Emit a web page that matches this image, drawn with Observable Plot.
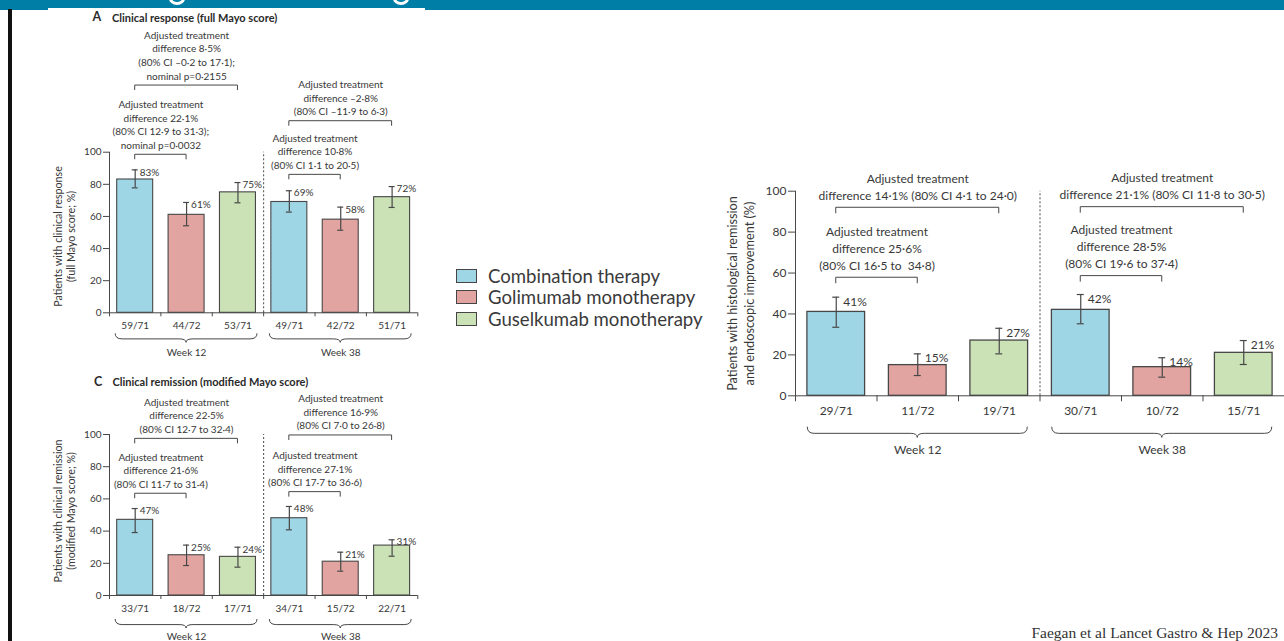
<!DOCTYPE html>
<html>
<head>
<meta charset="utf-8">
<script src="https://cdn.jsdelivr.net/npm/d3@7"></script>
<script src="https://cdn.jsdelivr.net/npm/@observablehq/plot@0.6"></script>
<style>
  body { margin: 0; background: #fff; }
  #page { position: relative; width: 1284px; height: 641px; overflow: hidden; background: #fff;
          font-family: Lato, "Open Sans", sans-serif; color: #3a3a3a; }
  .abs { position: absolute; }
  .banner { left: 0; top: 0; width: 1284px; height: 10px; background: #017ea6; overflow: hidden; }
  .glyph { position: absolute; top: -8px; width: 16px; height: 13px; border: 3px solid #fff; border-radius: 50%; box-sizing: border-box; }
  .ptitle { font-weight: 700; font-size: 11px; line-height: 13px; white-space: nowrap; color: #2a2a2a; }
  .pletter { font-weight: 700; font-size: 12.5px; line-height: 14px; color: #2a2a2a; }
  .legend-row { position: absolute; left: 456px; height: 22px; display: flex; align-items: center; white-space: nowrap; }
  .swatch { width: 19px; height: 12px; border: 1.5px solid #454545; margin-right: 11px; }
  .legend-row span { font-size: 18.6px; color: #3a3a3a; }
  .caption { right: 6px; top: 623px; font-family: "Liberation Serif", "DejaVu Serif", serif; font-size: 15.5px; line-height: 19px; color: #333; white-space: nowrap; }
</style>
</head>
<body>
<div id="page">
  <div class="abs banner">
    <div class="glyph" style="left:169px"></div>
    <div class="glyph" style="left:393px"></div>
  </div>
  <div class="abs" style="left:48px;top:7.5px;width:377px;height:3px;background:#fff"></div>
  <div class="abs" style="left:8px;top:9px;width:3.5px;height:632px;background:#111"></div>

  <div class="abs pletter" style="left:92.5px;top:10px">A</div>
  <div class="abs ptitle" style="left:112px;top:10.5px">Clinical response (full Mayo score)</div>
  <div class="abs pletter" style="left:94px;top:374.5px">C</div>
  <div class="abs ptitle" style="left:112.5px;top:375px">Clinical remission (modified Mayo score)</div>

  <div id="panelA" class="abs" style="left:0;top:0"></div>
  <div id="panelC" class="abs" style="left:0;top:365px"></div>
  <div id="panelB" class="abs" style="left:700px;top:150px"></div>
  <div id="legend"></div>
  <div class="abs caption">Faegan et al Lancet Gastro &amp; Hep 2023</div>
</div>

<script>
// Treatment arms and their fills
const arms = ["Combination therapy", "Golimumab monotherapy", "Guselkumab monotherapy"];
const armColors = ["#9fd6e6", "#e1a4a1", "#cae2b5"];
const weeks = ["Week 12", "Week 38"];
const yTicks = [0, 20, 40, 60, 80, 100];

// Bar order: week 12 (combination, golimumab, guselkumab), then week 38 in the same order
const responseCounts = ["59/71", "44/72", "53/71", "49/71", "42/72", "51/71"];
const responsePct = [83, 61, 75, 69, 58, 72];
const responseLow = [77.8, 54.2, 68.5, 62.7, 51.4, 65.6];
const responseHigh = [89.0, 68.7, 81.1, 76.0, 65.8, 78.6];
const responseComparisons = [
  { from: 0, to: 1, level: 98.4, text: "Adjusted treatment\ndifference 22·1%\n(80% CI 12·9 to 31·3);\nnominal p=0·0032" },
  { from: 0, to: 2, level: 141.5, text: "Adjusted treatment\ndifference 8·5%\n(80% CI –0·2 to 17·1);\nnominal p=0·2155" },
  { from: 3, to: 4, level: 85.9, text: "Adjusted treatment\ndifference 10·8%\n(80% CI 1·1 to 20·5)" },
  { from: 3, to: 5, level: 119.3, text: "Adjusted treatment\ndifference –2·8%\n(80% CI –11·9 to 6·3)" }
];

const remissionCounts = ["33/71", "18/72", "17/71", "34/71", "15/72", "22/71"];
const remissionPct = [47, 25, 24, 48, 21, 31];
const remissionLow = [39.1, 18.6, 17.6, 40.8, 15.1, 24.4];
const remissionHigh = [54.0, 31.3, 30.0, 55.3, 26.9, 34.6];
const remissionComparisons = [
  { from: 0, to: 1, level: 63.2, text: "Adjusted treatment\ndifference 21·6%\n(80% CI 11·7 to 31·4)" },
  { from: 0, to: 2, level: 97.3, text: "Adjusted treatment\ndifference 22·5%\n(80% CI 12·7 to 32·4)" },
  { from: 3, to: 4, level: 64.2, text: "Adjusted treatment\ndifference 27·1%\n(80% CI 17·7 to 36·6)" },
  { from: 3, to: 5, level: 99.4, text: "Adjusted treatment\ndifference 16·9%\n(80% CI 7·0 to 26·8)" }
];

const histoCounts = ["29/71", "11/72", "19/71", "30/71", "10/72", "15/71"];
const histoPct = [41, 15, 27, 42, 14, 21];
const histoLow = [33.5, 9.9, 20.5, 35.2, 9.1, 15.3];
const histoHigh = [48.2, 20.5, 33.0, 49.5, 18.6, 27.0];
const histoComparisons = [
  { from: 0, to: 1, level: 57.7, text: "Adjusted treatment\ndifference 25·6%\n(80% CI 16·5 to  34·8)" },
  { from: 0, to: 2, level: 91.9, text: "Adjusted treatment\ndifference 14·1% (80% CI 4·1 to 24·0)" },
  { from: 3, to: 4, level: 58.5, text: "Adjusted treatment\ndifference 28·5%\n(80% CI 19·6 to 37·4)" },
  { from: 3, to: 5, level: 92.2, text: "Adjusted treatment\ndifference 21·1% (80% CI 11·8 to 30·5)" }
];

const lineColor = "#474747";
const textColor = "#383838";
const slots = d3.range(6);
const slotEdges = d3.range(7);
const weekGroups = weeks.map((week, k) => ({ week, start: k * 3 }));

// Square brackets joining two bar centres, drawn with the plot's own scales
function brackets(comps, tick) {
  return (index, { x, y }) => {
    const g = d3.create("svg:g").attr("fill", "none").attr("stroke", lineColor).attr("stroke-width", 1);
    for (const c of comps) {
      const x1 = x(c.from + 0.5), x2 = x(c.to + 0.5), yy = y(c.level);
      g.append("path").attr("d", `M${x1},${yy + tick}V${yy}H${x2}V${yy + tick}`);
    }
    return g.node();
  };
}

// Curly braces under each week's three bars
function braces(groups, offset, depth, inset) {
  return (index, { x, y }) => {
    const g = d3.create("svg:g").attr("fill", "none").attr("stroke", lineColor).attr("stroke-width", 1);
    for (const w of groups) {
      const x1 = x(w.start + inset), x2 = x(w.start + 3 - inset), xm = (x1 + x2) / 2;
      const y0 = y(0) + offset, m = y0 + depth * 0.62, r = 7;
      g.append("path").attr("d",
        `M${x1},${y0}Q${x1},${m} ${x1 + r},${m}L${xm - r},${m}Q${xm},${m} ${xm},${y0 + depth}` +
        `Q${xm},${m} ${xm + r},${m}L${x2 - r},${m}Q${x2},${m} ${x2},${y0}`);
    }
    return g.node();
  };
}

function panel(o) {
  return Plot.plot({
    width: o.width, height: o.height,
    marginLeft: o.ml, marginRight: o.mr, marginTop: o.mt, marginBottom: o.mb,
    x: { domain: [0, 6], axis: null },
    y: { domain: [0, 100], axis: null },
    color: { domain: arms, range: armColors },
    style: { fontFamily: "Lato, 'Open Sans', sans-serif", fontSize: o.font + "px", color: textColor, background: "transparent", overflow: "visible" },
    marks: [
      Plot.rectY(slots, { x1: i => i, x2: i => i + 1, y: i => o.pct[i], fill: i => arms[i % 3],
        stroke: lineColor, strokeWidth: o.barStroke, insetLeft: o.inset, insetRight: o.inset }),
      Plot.ruleX([3], { y1: 0, y2: 100, stroke: lineColor, strokeDasharray: "2,2", strokeWidth: 1 }),
      Plot.ruleY([0], { x1: 0, x2: 6, stroke: lineColor }),
      Plot.ruleX([0], { y1: 0, y2: 100, stroke: lineColor }),
      Plot.axisY({ ticks: yTicks, tickSize: o.yTick, tickPadding: 2, fontSize: o.font, label: null, stroke: lineColor }),
      Plot.axisX({ ticks: slotEdges, tickSize: o.xTick, tickFormat: () => "", label: null, stroke: lineColor }),
      Plot.axisX({ ticks: slots.map(i => i + 0.5), tickSize: 0, tickPadding: o.xPad,
        tickFormat: d => o.counts[Math.floor(d)], fontSize: o.font, label: null }),
      Plot.ruleX(slots, { x: i => i + 0.5, y1: i => o.lo[i], y2: i => o.hi[i], stroke: lineColor, strokeWidth: 1.2 }),
      Plot.ruleY(slots, { y: i => o.hi[i], x1: i => i + 0.5, x2: i => i + 0.5, insetLeft: -o.cap, insetRight: -o.cap, stroke: lineColor, strokeWidth: 1.2 }),
      Plot.ruleY(slots, { y: i => o.lo[i], x1: i => i + 0.5, x2: i => i + 0.5, insetLeft: -o.cap, insetRight: -o.cap, stroke: lineColor, strokeWidth: 1.2 }),
      Plot.text(slots, { x: i => i + 0.5, y: i => o.hi[i], text: i => o.pct[i] + "%", textAnchor: "start",
        dx: o.valDx, dy: o.valDy, fontSize: o.font, fill: textColor }),
      brackets(o.comps, o.bracketTick),
      Plot.text(o.comps, { x: c => (c.from + c.to) / 2 + 0.5, y: c => c.level, text: c => c.text,
        lineAnchor: "bottom", dy: o.annDy, lineHeight: o.annLH, fontSize: o.font, fill: textColor }),
      braces(weekGroups, o.braceOff, o.braceDepth, o.braceInset),
      Plot.text(weekGroups, { x: g => g.start + 1.5, y: 0, dy: o.weekDy, text: g => g.week, fontSize: o.font, fill: textColor }),
      Plot.text([o.yLabel], { frameAnchor: "left", rotate: -90, dx: o.yLabDx, dy: o.yLabDy,
        lineHeight: o.yLabLH, textAnchor: "middle", lineAnchor: "middle", fontSize: o.yLabFont, fill: textColor })
    ]
  });
}

const leftCommon = {
  width: 430, ml: 109, mr: 12.7, font: 10, inset: 7.7, barStroke: 1.1, yTick: 6, xTick: 4, xPad: 9,
  cap: 3, valDx: 4.5, valDy: 2.5, bracketTick: 5, annDy: -6, annLH: 1.36,
  braceOff: 21, braceDepth: 9, braceInset: 0.12, weekDy: 40, yLabDx: -45, yLabLH: 1.15, yLabFont: 10.7
};

document.getElementById("panelA").append(panel({
  ...leftCommon, height: 365, mt: 151.7, mb: 52.7,
  counts: responseCounts, pct: responsePct, lo: responseLow, hi: responseHigh, comps: responseComparisons,
  yLabel: "Patients with clinical response\n(full Mayo score; %)", yLabDy: 4
}));

document.getElementById("panelC").append(panel({
  ...leftCommon, height: 276, mt: 69, mb: 46,
  counts: remissionCounts, pct: remissionPct, lo: remissionLow, hi: remissionHigh, comps: remissionComparisons,
  yLabel: "Patients with clinical remission\n(modified Mayo score; %)", yLabDy: -4, braceOff: 24, weekDy: 41.5
}));

document.getElementById("panelB").append(panel({
  width: 584, height: 310, ml: 95, mr: 0, mt: 40.7, mb: 64.7, font: 12, inset: 11.9, barStroke: 1.3,
  yTick: 7, xTick: 6, xPad: 11, cap: 3.5, valDx: 7, valDy: 4.5, bracketTick: 6, annDy: -8, annLH: 1.42,
  braceOff: 31.4, braceDepth: 10.7, braceInset: 0.15, weekDy: 54.7, yLabDx: -55.3, yLabDy: 0, yLabLH: 1.3, yLabFont: 12.7,
  counts: histoCounts, pct: histoPct, lo: histoLow, hi: histoHigh, comps: histoComparisons,
  yLabel: "Patients with histological remission\nand endoscopic improvement (%)"
}));

// Legend for the three treatment arms
const legend = document.getElementById("legend");
const legendCentres = [275.7, 297.2, 318.5];
arms.forEach((name, i) => {
  const row = document.createElement("div");
  row.className = "legend-row";
  row.style.top = (legendCentres[i] - 11) + "px";
  const sw = document.createElement("div");
  sw.className = "swatch";
  sw.style.background = armColors[i];
  const label = document.createElement("span");
  label.textContent = name;
  row.append(sw, label);
  legend.append(row);
});
</script>
</body>
</html>
